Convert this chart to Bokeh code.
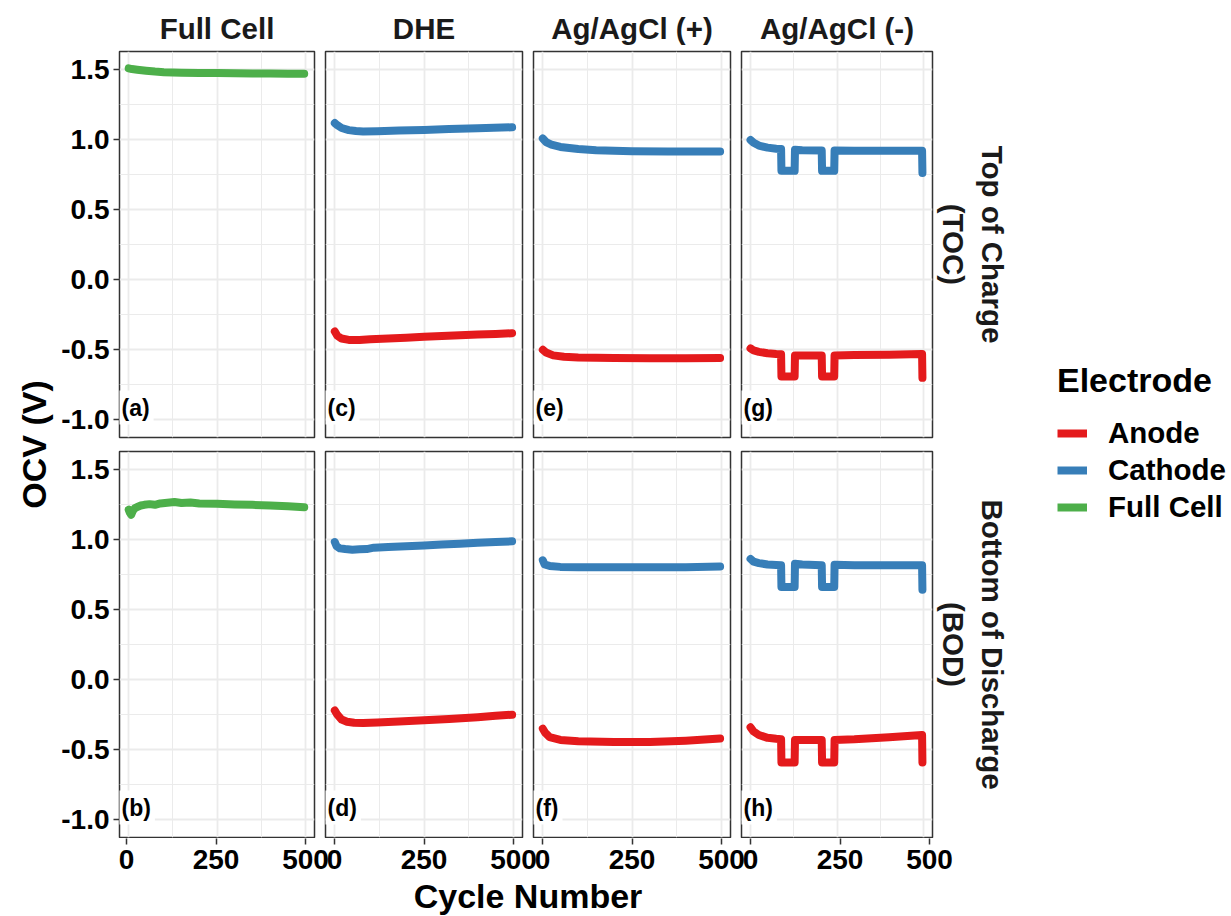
import math
from bokeh.plotting import figure
from bokeh.layouts import row, column
from bokeh.models import (Range1d, FixedTicker, Title, Label, Legend, LegendItem, LinearAxis)
from bokeh.embed import file_html
from bokeh.resources import INLINE

# ---------------- data ----------------
electrodes = ["Anode", "Cathode", "Full Cell"]
references = ["Full Cell", "DHE", "Ag/AgCl (+)", "Ag/AgCl (-)"]
states = [("Top of Charge", "(TOC)"), ("Bottom of Discharge", "(BOD)")]
panel_tags = [["(a)", "(c)", "(e)", "(g)"], ["(b)", "(d)", "(f)", "(h)"]]

x_ticks = [0, 250, 500]
x_tick_labels = ["0", "250", "500"]
x_minor = [125, 375]
y_ticks = [-1.0, -0.5, 0.0, 0.5, 1.0, 1.5]
y_tick_labels = ["-1.0", "-0.5", "0.0", "0.5", "1.0", "1.5"]
y_minor = [-0.75, -0.25, 0.25, 0.75, 1.25]

# (a) Full Cell, TOC
fc_toc_cyc = [1, 10, 25, 50, 75, 100, 150, 200, 250, 300, 350, 400, 450, 496]
fc_toc_v = [1.505, 1.50, 1.495, 1.488, 1.482, 1.478, 1.474, 1.472, 1.471, 1.470, 1.469, 1.468, 1.467, 1.466]
# (b) Full Cell, BOD
fc_bod_cyc = [1, 4, 8, 12, 18, 25, 35, 45, 60, 75, 90, 110, 130, 150, 175, 200, 250, 300, 350, 400, 450, 496]
fc_bod_v = [1.21, 1.19, 1.175, 1.20, 1.22, 1.23, 1.24, 1.245, 1.25, 1.245, 1.255, 1.26, 1.265, 1.258,
            1.262, 1.255, 1.252, 1.248, 1.245, 1.24, 1.235, 1.228]
# (c) DHE, TOC
dhe_toc_cat_cyc = [1, 8, 20, 40, 60, 80, 120, 180, 250, 320, 400, 496]
dhe_toc_cat_v = [1.115, 1.10, 1.08, 1.065, 1.058, 1.055, 1.057, 1.062, 1.066, 1.072, 1.078, 1.085]
dhe_toc_an_cyc = [1, 8, 20, 40, 70, 100, 150, 200, 250, 300, 350, 400, 450, 496]
dhe_toc_an_v = [-0.37, -0.40, -0.42, -0.43, -0.43, -0.425, -0.42, -0.415, -0.408, -0.402, -0.397, -0.392, -0.387, -0.382]
# (d) DHE, BOD
dhe_bod_cat_cyc = [1, 6, 15, 30, 50, 70, 90, 110, 150, 200, 250, 300, 350, 400, 450, 496]
dhe_bod_cat_v = [0.98, 0.95, 0.935, 0.93, 0.925, 0.928, 0.93, 0.94, 0.945, 0.95, 0.955, 0.962, 0.968, 0.975, 0.98, 0.985]
dhe_bod_an_cyc = [1, 8, 20, 35, 55, 80, 120, 180, 250, 320, 400, 450, 496]
dhe_bod_an_v = [-0.22, -0.25, -0.285, -0.30, -0.308, -0.31, -0.305, -0.298, -0.29, -0.28, -0.268, -0.258, -0.25]
# (e) Ag/AgCl (+), TOC
agp_toc_cat_cyc = [1, 10, 25, 50, 100, 150, 250, 350, 450, 496]
agp_toc_cat_v = [1.005, 0.98, 0.962, 0.945, 0.93, 0.922, 0.915, 0.912, 0.912, 0.913]
agp_toc_an_cyc = [1, 10, 30, 60, 100, 200, 300, 400, 496]
agp_toc_an_v = [-0.50, -0.52, -0.54, -0.55, -0.555, -0.558, -0.56, -0.56, -0.558]
# (f) Ag/AgCl (+), BOD
agp_bod_cat_cyc = [1, 6, 20, 50, 100, 200, 300, 400, 496]
agp_bod_cat_v = [0.85, 0.82, 0.81, 0.803, 0.80, 0.80, 0.80, 0.80, 0.805]
agp_bod_an_cyc = [1, 8, 20, 50, 100, 200, 300, 400, 496]
agp_bod_an_v = [-0.35, -0.38, -0.41, -0.43, -0.44, -0.445, -0.445, -0.435, -0.42]
# (g) Ag/AgCl (-), TOC
agm_toc_cat_cyc = [1, 10, 25, 50, 75, 89, 90, 128, 129, 150, 206, 207, 242, 243, 300, 400, 495, 496]
agm_toc_cat_v = [0.995, 0.975, 0.955, 0.94, 0.932, 0.93, 0.775, 0.775, 0.925, 0.922, 0.92, 0.775, 0.775,
                 0.92, 0.918, 0.918, 0.918, 0.76]
agm_toc_an_cyc = [1, 10, 25, 50, 75, 89, 90, 128, 129, 150, 206, 207, 242, 243, 300, 400, 495, 496]
agm_toc_an_v = [-0.49, -0.505, -0.515, -0.525, -0.53, -0.532, -0.69, -0.69, -0.54, -0.54, -0.54, -0.69, -0.69,
                -0.54, -0.538, -0.535, -0.53, -0.70]
# (h) Ag/AgCl (-), BOD
agm_bod_cat_cyc = [1, 10, 25, 50, 75, 89, 90, 128, 129, 150, 206, 207, 242, 243, 300, 400, 495, 496]
agm_bod_cat_v = [0.86, 0.84, 0.83, 0.82, 0.817, 0.815, 0.66, 0.66, 0.825, 0.82, 0.815, 0.66, 0.66,
                 0.818, 0.815, 0.815, 0.815, 0.64]
agm_bod_an_cyc = [1, 10, 25, 50, 75, 89, 90, 128, 129, 150, 206, 207, 242, 243, 300, 400, 495, 496]
agm_bod_an_v = [-0.34, -0.37, -0.395, -0.415, -0.422, -0.425, -0.59, -0.59, -0.43, -0.43, -0.43, -0.59, -0.59,
                -0.43, -0.425, -0.41, -0.395, -0.59]

series = {
    (0, 0): [("Full Cell", fc_toc_cyc, fc_toc_v)],
    (1, 0): [("Full Cell", fc_bod_cyc, fc_bod_v)],
    (0, 1): [("Anode", dhe_toc_an_cyc, dhe_toc_an_v), ("Cathode", dhe_toc_cat_cyc, dhe_toc_cat_v)],
    (1, 1): [("Anode", dhe_bod_an_cyc, dhe_bod_an_v), ("Cathode", dhe_bod_cat_cyc, dhe_bod_cat_v)],
    (0, 2): [("Anode", agp_toc_an_cyc, agp_toc_an_v), ("Cathode", agp_toc_cat_cyc, agp_toc_cat_v)],
    (1, 2): [("Anode", agp_bod_an_cyc, agp_bod_an_v), ("Cathode", agp_bod_cat_cyc, agp_bod_cat_v)],
    (0, 3): [("Anode", agm_toc_an_cyc, agm_toc_an_v), ("Cathode", agm_toc_cat_cyc, agm_toc_cat_v)],
    (1, 3): [("Anode", agm_bod_an_cyc, agm_bod_an_v), ("Cathode", agm_bod_cat_cyc, agm_bod_cat_v)],
}
legend_series = [("Anode", dhe_toc_an_cyc, dhe_toc_an_v), ("Cathode", dhe_toc_cat_cyc, dhe_toc_cat_v),
                 ("Full Cell", fc_toc_cyc, fc_toc_v)]

# ---------------- style / layout ----------------
FONT = "Liberation Sans"
COLORS = {"Anode": "#E41A1C", "Cathode": "#377EB8", "Full Cell": "#4DAF4A"}
GRID = "#EBEBEB"
BORDER = "#333333"
X_RANGE = (-25, 525)
Y_RANGE = (-1.125, 1.625)

col_w = [260, 208, 208, 276]
col_left = [59, 7, 7, 7]
col_right = [4, 4, 4, 72]
row_h = [444, 394]
row_top = [51, 7]
row_bottom = [7, 1]
FRAME_W = 197
COL_STEP = 208


def make_panel(r, c):
    p = figure(width=col_w[c], height=row_h[r], x_range=Range1d(*X_RANGE), y_range=Range1d(*Y_RANGE),
               x_axis_location=None, y_axis_location=None, output_backend="svg", toolbar_location=None,
               min_border_left=col_left[c], min_border_right=col_right[c],
               min_border_top=row_top[r], min_border_bottom=row_bottom[r],
               background_fill_color="white", border_fill_color="white",
               outline_line_color=BORDER, outline_line_width=1.5)
    p.xgrid.ticker = FixedTicker(ticks=x_ticks, minor_ticks=x_minor)
    p.ygrid.ticker = FixedTicker(ticks=y_ticks, minor_ticks=y_minor)
    for g in (p.xgrid, p.ygrid):
        g.grid_line_color = GRID
        g.grid_line_width = 1.8
        g.minor_grid_line_color = GRID
        g.minor_grid_line_width = 1.0

    if c == 0:
        yax = LinearAxis(ticker=FixedTicker(ticks=y_ticks),
                         major_label_overrides=dict(zip(y_ticks, y_tick_labels)),
                         axis_line_color=None, major_tick_out=6, major_tick_in=0,
                         major_tick_line_color=BORDER, major_tick_line_width=1.5,
                         minor_tick_line_color=None, major_label_standoff=4,
                         major_label_text_font=FONT, major_label_text_font_size="28px",
                         major_label_text_font_style="bold", major_label_text_color="black")
        p.add_layout(yax, "left")
    if r == 0:
        p.title.text = references[c]
        p.title.align = "center"
        p.title.text_font = FONT
        p.title.text_font_size = "29.5px"
        p.title.text_font_style = "bold"
        p.title.text_color = "#1A1A1A"
        p.title.standoff = 13
    if c == 3:
        for txt, so in zip(reversed(states[r]), (8, 0)):
            p.add_layout(Title(text=txt, align="center", text_font=FONT, text_font_size="29.5px",
                               text_font_style="bold", text_color="#1A1A1A", standoff=so), "right")

    for name, cyc, v in series[(r, c)]:
        p.line(x=cyc, y=v, line_color=COLORS[name], line_width=8, line_cap="round", line_join="round")

    p.add_layout(Label(x=X_RANGE[0], y=Y_RANGE[0], x_offset=-2, y_offset=30, text=panel_tags[r][c],
                       text_align="left", text_baseline="middle", text_font=FONT,
                       text_font_size="23px", text_font_style="bold", text_color="black",
                       background_fill_color="white", padding=4))
    return p


panels = [[make_panel(r, c) for c in range(4)] for r in range(2)]

# x ticks, tick labels and title for the bottom row: one shared axis spanning the four panels
xf = figure(width=sum(col_w), height=78, x_range=Range1d(0, 3 * COL_STEP + FRAME_W), y_range=Range1d(0, 1),
            x_axis_location=None, y_axis_location=None, output_backend="svg", toolbar_location=None,
            min_border_left=col_left[0], min_border_right=col_right[3], min_border_top=0, min_border_bottom=77,
            outline_line_color=None, border_fill_color="white", background_fill_color="white")
xf.grid.visible = False
tick_pos, tick_txt = [], []
for k in range(4):
    for t, lab in zip(x_ticks, x_tick_labels):
        pos = round(k * COL_STEP + (t - X_RANGE[0]) * FRAME_W / (X_RANGE[1] - X_RANGE[0]), 4)
        tick_pos.append(pos)
        tick_txt.append(lab)
xax = LinearAxis(ticker=FixedTicker(ticks=tick_pos), major_label_overrides=dict(zip(tick_pos, tick_txt)),
                 axis_line_color=None, major_tick_line_color=BORDER, major_tick_line_width=1.5,
                 minor_tick_line_color=None, major_tick_out=6, major_tick_in=0, major_label_standoff=5,
                 major_label_text_font=FONT, major_label_text_font_size="28px",
                 major_label_text_font_style="bold", major_label_text_color="black",
                 axis_label="Cycle Number", axis_label_standoff=5, axis_label_text_font=FONT,
                 axis_label_text_font_size="34px", axis_label_text_font_style="bold",
                 axis_label_text_color="black")
xf.add_layout(xax, "below")

# y axis title
yl = figure(width=58, height=916, x_range=Range1d(0, 58), y_range=Range1d(0, 916),
            x_axis_location=None, y_axis_location=None, output_backend="svg", toolbar_location=None,
            min_border=0, outline_line_color=None, border_fill_color="white", background_fill_color="white")
yl.grid.visible = False
yl.add_layout(Label(x=33, y=472, text="OCV (V)", angle=math.pi / 2, text_align="center",
                    text_baseline="middle", text_font=FONT, text_font_size="34px",
                    text_font_style="bold", text_color="black"))

# legend (its renderers hold real series but lie outside this figure's view)
lf = figure(width=221, height=916, x_range=Range1d(-3, -2), y_range=Range1d(-3, -2),
            x_axis_location=None, y_axis_location=None, output_backend="svg", toolbar_location=None,
            min_border=0, outline_line_color=None, border_fill_color="white", background_fill_color="white")
lf.grid.visible = False
items = []
for name, cyc, v in legend_series:
    rr = lf.line(x=cyc, y=v, line_color=COLORS[name], line_width=8)
    items.append(LegendItem(label=name, renderers=[rr]))
leg = Legend(items=items, location=(47, 392), title="Electrode",
             title_text_font=FONT, title_text_font_size="34px", title_text_font_style="bold",
             title_text_color="black", title_standoff=16,
             label_text_font=FONT, label_text_font_size="29.5px", label_text_font_style="bold",
             label_text_color="black", glyph_width=30, glyph_height=34, label_height=34,
             label_standoff=21, spacing=3, padding=0, margin=0,
             border_line_color=None, background_fill_alpha=0)
lf.add_layout(leg)

layout = row(yl, column(row(*panels[0]), row(*panels[1]), xf), lf)

open("out.html", "w").write(file_html(layout, INLINE))
